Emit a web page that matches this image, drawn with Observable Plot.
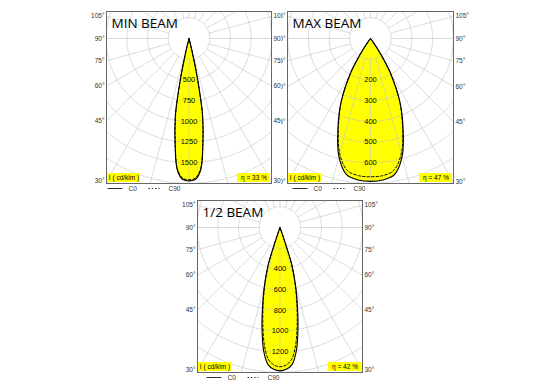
<!DOCTYPE html>
<html><head><meta charset="utf-8">
<script src="https://cdn.jsdelivr.net/npm/d3@7"></script>
<script src="https://cdn.jsdelivr.net/npm/@observablehq/plot@0.6"></script>
<style>
body{margin:0;background:#fff;}
#wrap{position:relative;width:557px;height:389px;overflow:hidden;background:#fff;}
#wrap svg{position:absolute;overflow:hidden;background:#fff;}
</style></head><body><div id="wrap"></div>
<script>
// angle labels on the frame sides (degrees from nadir)
const angleTicks = [105, 90, 75, 60, 45, 30];

// MIN BEAM
const minAngles = [0, 2.5, 5, 7.5, 10, 11, 12, 13, 14, 15];
const minC0  = [1720, 1705, 1600, 1290, 950, 720, 480, 250, 90, 0];
const minC90 = [1705, 1690, 1585, 1275, 935, 712, 478, 250, 90, 0];
const minTicks = [500, 750, 1000, 1250, 1500];

// MAX BEAM
const maxAngles = [0, 5, 10, 15, 20, 25, 30, 32, 34, 36, 38];
const maxC0  = [690, 686, 668, 590, 460, 333, 190, 125, 65, 20, 0];
const maxC90 = [668, 665, 647, 575, 452, 333, 195, 130, 68, 22, 0];
const maxTicks = [200, 300, 400, 500, 600];

// 1/2 BEAM
const halfAngles = [0, 2.5, 5, 7.5, 10, 12.5, 15, 17.5, 18.5, 19.5, 20];
const halfC0  = [1385, 1372, 1330, 1205, 1000, 780, 580, 385, 190, 60, 0];
const halfC90 = [1345, 1330, 1280, 1150, 955, 750, 565, 380, 190, 60, 0];
const halfTicks = [400, 600, 800, 1000, 1200];

const titles = ["MIN BEAM", "MAX BEAM", "1/2 BEAM"];
const efficiencies = ["η = 33 %", "η = 47 %", "η = 42 %"];
const unitLabel = "I ( cd/klm )";
const legendLabels = ["C0", "C90"];

const YELLOW = "#ffff00";
const rad = a => a * Math.PI / 180;

function shape(angles, vals) {
  const pts = [];
  for (let i = angles.length - 1; i >= 0; i--) pts.push([-angles[i], vals[i]]);
  for (let i = 1; i < angles.length; i++) pts.push([angles[i], vals[i]]);
  return pts.map(([a, v]) => ({x: v * Math.sin(rad(a)), y: v * Math.cos(rad(a))}));
}

function panel(c) {
  const k = c.k;
  const toX = px => (px - c.cx) / k;
  const toY = py => (py - c.cy) / k;
  const step = c.step;
  const circles = [];
  for (let n = 1; n <= 9; n++) {
    for (let a = 0; a <= 360; a += 2) circles.push({n, x: n * step * Math.sin(rad(a)), y: n * step * Math.cos(rad(a))});
  }
  const radials = d3.range(0, 360, 15).map(a => ({
    x1: step * Math.sin(rad(a)), y1: step * Math.cos(rad(a)),
    x2: 14 * step * Math.sin(rad(a)), y2: 14 * step * Math.cos(rad(a))
  }));
  const hwL = (c.cx - c.L) / k, hwR = (c.R - c.cx) / k;
  const c0 = shape(c.angles, c.c0), c90 = shape(c.angles, c.c90);
  const fs = 6.5;
  const svg = Plot.plot({
    width: c.sw, height: c.sh,
    marginLeft: c.L - c.sx, marginRight: c.sx + c.sw - c.R,
    marginTop: c.T - c.sy, marginBottom: c.sy + c.sh - c.B,
    x: {domain: [toX(c.L), toX(c.R)], axis: null},
    y: {domain: [toY(c.B), toY(c.T)], axis: null},
    style: {fontFamily: "Liberation Sans, Arial, sans-serif", background: "white", overflow: "hidden"},
    marks: [
      Plot.line(c0, {x: "x", y: "y", fill: YELLOW, stroke: "none", curve: "catmull-rom"}),
      Plot.line(circles, {x: "x", y: "y", z: "n", stroke: "#c4c4c4", strokeWidth: 0.6, clip: true}),
      Plot.link(radials, {x1: "x1", y1: "y1", x2: "x2", y2: "y2", stroke: "#c4c4c4", strokeWidth: 0.6, clip: true}),
      Plot.line(c0, {x: "x", y: "y", stroke: "#000", strokeWidth: 1.1, curve: "catmull-rom"}),
      Plot.line(c90, {x: "x", y: "y", stroke: "#000", strokeWidth: 1, strokeDasharray: "2.5,2", curve: "catmull-rom"}),
      Plot.text(c.ticks, {x: 0, y: d => d, text: d => String(d), fontSize: 7.5, fill: "#000", stroke: YELLOW, strokeWidth: 2}),
      Plot.frame({stroke: "#666", strokeWidth: 1}),
      Plot.text(angleTicks, {x: toX(c.L), y: a => hwL / Math.tan(rad(a)), text: a => a + "°", textAnchor: "end", dx: -2, fontSize: fs, fill: "#333"}),
      Plot.text(angleTicks, {x: toX(c.R), y: a => hwR / Math.tan(rad(a)), text: a => a + "°", textAnchor: "start", dx: 2, fontSize: fs, fill: "#333"}),
      Plot.text([c.title], {frameAnchor: "top-left", dx: 5, dy: 7, fontSize: 13.5, fontFamily: "Open Sans", fill: "#000"}),
      Plot.rect([0], {x1: toX(c.L + 1), x2: toX(c.L + 34), y1: toY(c.B - 10), y2: toY(c.B - 1), fill: YELLOW}),
      Plot.text([unitLabel], {x: toX(c.L + 17.5), y: toY(c.B - 5.3), fontSize: fs, fill: "#000"}),
      Plot.rect([0], {x1: toX(c.R - 34), x2: toX(c.R - 1), y1: toY(c.B - 10), y2: toY(c.B - 1), fill: YELLOW}),
      Plot.text([c.eta], {x: toX(c.R - 17.5), y: toY(c.B - 5.3), fontSize: fs, fill: "#000"}),
      Plot.link([0], {x1: toX(c.L + c.lg), x2: toX(c.L + c.lg + 15), y1: toY(c.B + 5), y2: toY(c.B + 5), stroke: "#333", strokeWidth: 1}),
      Plot.text([legendLabels[0]], {x: toX(c.L + c.lg + 21), y: toY(c.B + 5), textAnchor: "start", fontSize: fs, fill: "#333"}),
      Plot.link([0], {x1: toX(c.L + c.lg + 41), x2: toX(c.L + c.lg + 52), y1: toY(c.B + 5), y2: toY(c.B + 5), stroke: "#333", strokeWidth: 1, strokeDasharray: "1.5,1.8"}),
      Plot.text([legendLabels[1]], {x: toX(c.L + c.lg + 61), y: toY(c.B + 5), textAnchor: "start", fontSize: fs, fill: "#333"})
    ]
  });
  svg.style.left = c.sx + "px";
  svg.style.top = c.sy + "px";
  document.getElementById("wrap").appendChild(svg);
}

panel({sx: 80, sy: 0, sw: 201, sh: 196, L: 106, T: 11, R: 271, B: 183, cx: 188.5, cy: 38, k: 20.7 / 250, step: 250,
  angles: minAngles, c0: minC0, c90: minC90, ticks: minTicks, title: titles[0], eta: efficiencies[0], lg: 1});
panel({sx: 281, sy: 0, sw: 200, sh: 196, L: 287, T: 11, R: 453, B: 183, cx: 370, cy: 38, k: 20.7 / 100, step: 100,
  angles: maxAngles, c0: maxC0, c90: maxC90, ticks: maxTicks, title: titles[1], eta: efficiencies[1], lg: 5});
panel({sx: 170, sy: 196, sw: 220, sh: 193, L: 197, T: 200, R: 362, B: 372, cx: 279.5, cy: 227, k: 20.7 / 200, step: 200,
  angles: halfAngles, c0: halfC0, c90: halfC90, ticks: halfTicks, title: titles[2], eta: efficiencies[2], lg: 9});
</script>
</body></html>
